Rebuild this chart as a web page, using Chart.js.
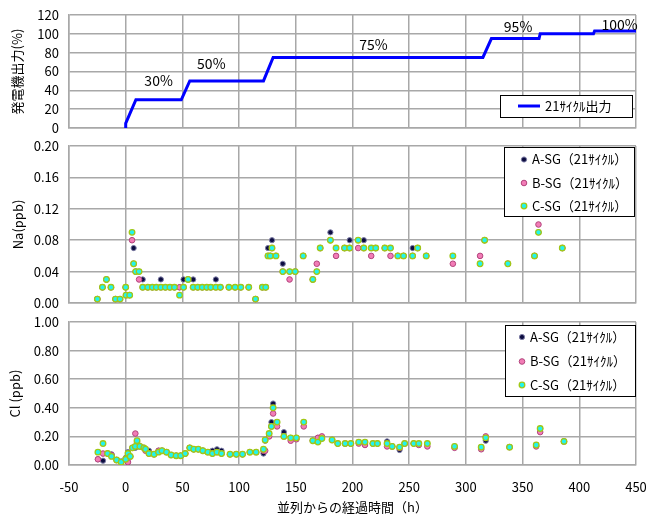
<!DOCTYPE html>
<html>
<head>
<meta charset="utf-8">
<script src="https://cdn.jsdelivr.net/npm/chart.js@4.4.0/dist/chart.umd.min.js"></script>
<style>
  body { margin: 0; background: #fff; width: 646px; height: 515px; position: relative; overflow: hidden; }
  canvas { position: absolute; left: 0; }
</style>
</head>
<body>
<canvas id="power" width="646" height="140" style="top:0px"></canvas>
<canvas id="na" width="646" height="180" style="top:135px"></canvas>
<canvas id="cl" width="646" height="205" style="top:310px"></canvas>
<script>
// 発電機出力（21サイクル）
const powerTime  = [0, 0, 9, 49, 56.5, 121.5, 130, 315, 322.5, 364.5, 365.5, 412.5, 413.5, 450];
const powerLevel = [0, 5, 30, 30, 50, 50, 75, 75, 95, 95, 100, 100, 103, 103];
const stepText = ["30%", "50%", "75%", "95%", "100%"];
const stepTextX = [29, 75.5, 218.5, 346, 435.5];
const stepTextY = [50.5, 68, 88, 108, 110];

// Na (ppb)
const naTime = [-25, -20.5, -17, -13, -9, -5, 0, 0.3, 3.5, 5.6, 7, 8.8, 11.8, 15, 19.5, 23.5, 27, 31, 35, 39,
  43, 47.5, 51, 55, 59.5, 63.5, 67.5, 71.5, 75, 79.5, 83.5, 91, 96.5, 101.5, 108.5, 114.5, 120.5, 123.5, 125.5, 127.5,
  129, 132.5, 138.5, 144.5, 149.5, 156.5, 165, 168.5, 171.5, 180.5, 185.5, 193, 197.5, 205, 210, 216.5, 220.5, 228.5, 233.5, 240,
  245, 253, 257.5, 265, 288.5, 312.5, 316.5, 337, 360.5, 364, 385];
const naA = [0.005, 0.02, 0.03, 0.02, 0.005, 0.005, 0.02, 0.01, 0.01, null, 0.07, 0.04, 0.04, 0.03, 0.02, 0.02, 0.02, 0.03, 0.02, 0.02,
  0.02, 0.02, 0.03, 0.03, 0.03, 0.02, 0.02, 0.02, 0.02, 0.03, 0.02, 0.02, 0.02, 0.02, 0.02, 0.005, 0.02, 0.02, 0.07, 0.06,
  0.08, 0.06, 0.05, 0.04, 0.04, 0.06, 0.03, 0.04, 0.07, 0.09, 0.07, 0.07, 0.08, 0.08, 0.08, 0.07, 0.07, 0.07, 0.07, 0.06,
  0.06, 0.07, 0.07, 0.06, 0.06, 0.05, 0.08, 0.05, 0.06, 0.09, 0.07];
const naB = [0.005, 0.02, 0.03, 0.02, 0.005, 0.005, 0.02, 0.01, 0.01, 0.08, 0.05, 0.04, 0.03, 0.02, 0.02, 0.02, 0.02, 0.02, 0.02, 0.02,
  0.02, 0.02, 0.02, 0.03, 0.02, 0.02, 0.02, 0.02, 0.02, 0.02, 0.02, 0.02, 0.02, 0.02, 0.02, 0.005, 0.02, 0.02, 0.06, 0.06,
  0.07, 0.06, 0.04, 0.03, 0.04, 0.06, 0.03, 0.05, 0.07, 0.08, 0.06, 0.07, 0.07, 0.07, 0.07, 0.06, 0.07, 0.07, 0.06, 0.06,
  0.06, 0.06, 0.07, 0.06, 0.05, 0.06, 0.08, 0.05, 0.06, 0.10, 0.07];
const naC = [0.005, 0.02, 0.03, 0.02, 0.005, 0.005, 0.02, 0.01, 0.01, 0.09, 0.05, 0.04, 0.04, 0.02, 0.02, 0.02, 0.02, 0.02, 0.02, 0.02,
  0.02, 0.01, 0.02, 0.03, 0.02, 0.02, 0.02, 0.02, 0.02, 0.02, 0.02, 0.02, 0.02, 0.02, 0.02, 0.005, 0.02, 0.02, 0.06, 0.06,
  0.07, 0.06, 0.04, 0.04, 0.04, 0.06, 0.03, 0.04, 0.07, 0.08, 0.07, 0.07, 0.07, 0.08, 0.07, 0.07, 0.07, 0.07, 0.07, 0.06,
  0.06, 0.06, 0.07, 0.06, 0.06, 0.05, 0.08, 0.05, 0.06, 0.09, 0.07];

// Cl (ppb)
const clTime = [-24.5, -20, -16, -12.5, -8, -4, 0, 2, 4, 6, 8.5, 10, 12.5, 16, 17.5, 20.5, 25, 29, 32, 36,
  40, 44.5, 48.5, 52.5, 56.5, 60, 64, 68, 72.5, 76.5, 80.5, 84.5, 92, 97.5, 103, 109.5, 115, 121.5, 123, 126.5,
  128.5, 130, 133.5, 139.5, 145.5, 150.5, 157, 165, 169.5, 173, 182, 187, 193.5, 198.5, 205.5, 211, 218, 222, 230.5, 235,
  241.5, 246, 254, 258.5, 266, 290, 313.5, 317.5, 338.5, 362, 365.5, 386.5];
const clA = [0.04, 0.03, 0.08, 0.075, 0.035, 0.025, 0.05, 0.09, 0.06, 0.12, 0.12, 0.16, 0.13, 0.12, 0.11, 0.10, 0.075, 0.10, 0.10, 0.09,
  0.07, 0.065, 0.065, 0.08, 0.12, 0.11, 0.11, 0.10, 0.09, 0.10, 0.11, 0.10, 0.075, 0.075, 0.075, 0.09, 0.09, 0.08, 0.17, 0.22,
  0.30, 0.43, 0.30, 0.23, 0.19, 0.19, 0.30, 0.17, 0.19, 0.185, 0.175, 0.15, 0.15, 0.15, 0.16, 0.16, 0.15, 0.15, 0.165, 0.13,
  0.105, 0.15, 0.15, 0.15, 0.15, 0.13, 0.125, 0.17, 0.125, 0.14, 0.255, 0.165];
const clB = [0.04, 0.08, 0.08, 0.07, 0.035, 0.02, 0.04, 0.02, 0.06, 0.12, 0.22, 0.16, 0.13, 0.12, 0.10, 0.08, 0.075, 0.10, 0.10, 0.09,
  0.07, 0.065, 0.065, 0.08, 0.12, 0.11, 0.11, 0.10, 0.09, 0.08, 0.09, 0.08, 0.075, 0.075, 0.075, 0.09, 0.09, 0.10, 0.10, 0.20,
  0.27, 0.36, 0.27, 0.20, 0.17, 0.18, 0.27, 0.17, 0.19, 0.20, 0.175, 0.15, 0.15, 0.15, 0.15, 0.14, 0.15, 0.15, 0.13, 0.13,
  0.12, 0.15, 0.15, 0.14, 0.13, 0.12, 0.11, 0.20, 0.125, 0.13, 0.23, 0.165];
const clC = [0.09, 0.15, 0.08, 0.06, 0.035, 0.02, 0.04, 0.08, 0.06, 0.12, 0.13, 0.17, 0.13, 0.12, 0.11, 0.08, 0.075, 0.09, 0.10, 0.09,
  0.07, 0.065, 0.065, 0.08, 0.12, 0.11, 0.11, 0.10, 0.09, 0.08, 0.09, 0.08, 0.075, 0.075, 0.075, 0.09, 0.09, 0.11, 0.175, 0.22,
  0.27, 0.40, 0.30, 0.20, 0.19, 0.19, 0.30, 0.17, 0.16, 0.185, 0.175, 0.15, 0.15, 0.15, 0.16, 0.16, 0.15, 0.15, 0.15, 0.13,
  0.125, 0.15, 0.15, 0.15, 0.15, 0.13, 0.125, 0.19, 0.125, 0.14, 0.255, 0.165];

const seriesNames = ["A-SG（21ｻｲｸﾙ）", "B-SG（21ｻｲｸﾙ）", "C-SG（21ｻｲｸﾙ）"];
const powerName = "21ｻｲｸﾙ出力";

const FONT = '"Noto Sans CJK JP", "Liberation Sans", sans-serif';
const GRID = "#a8a8a8";
Chart.defaults.font.family = FONT;
Chart.defaults.font.size = 12;
Chart.defaults.color = "#000";

// A: 紺, B: ピンク, C: シアン+黄緑の縁
const mark = [
  { fill: "#0c0c40", stroke: "#7c7ca4", r: 2.6, w: 1 },
  { fill: "#f27cb6", stroke: "#b2447c", r: 2.8, w: 1 },
  { fill: "#20f4f0", stroke: "#a2c816", r: 2.8, w: 1.3 }
];

function pts(xs, ys) {
  return xs.map((x, i) => ({ x: x, y: ys[i] })).filter(p => p.y !== null);
}

function xAxis(withLabels) {
  return {
    type: "linear", min: -50, max: 450,
    ticks: { display: withLabels, stepSize: 50, padding: 14, font: { size: 13 } },
    grid: { color: GRID, lineWidth: 1.5, drawTicks: false },
    border: { color: GRID, width: 1.5 },
    title: { display: withLabels, text: "並列からの経過時間（h）", padding: { top: 0, bottom: 0 }, font: { size: 13 } },
    afterFit(s) { s.paddingLeft = 0; s.paddingRight = 0; s.height = withLabels ? 50 : 0; }
  };
}

function yAxis(max, step, digits, title, titlePad) {
  return {
    min: 0, max: max,
    ticks: { stepSize: step, padding: 10, font: { size: 13 }, callback: v => v.toFixed(digits) },
    grid: { color: GRID, lineWidth: 1.5, drawTicks: false },
    border: { color: GRID, width: 1.5 },
    title: { display: true, text: title, padding: { top: titlePad, bottom: 0 }, font: { size: 13 } },
    // 幅と上下の余白は layout.padding で決める
    afterFit(s) { s.width = 69; s.paddingTop = 0; s.paddingBottom = 0; }
  };
}

// 枠付きの凡例（プロット内右上）
const boxLegend = {
  id: "boxLegend",
  afterDraw(chart, args, o) {
    const ctx = chart.ctx;
    ctx.save();
    ctx.fillStyle = "#fff";
    ctx.fillRect(o.x, o.y, o.w, o.h);
    ctx.strokeStyle = "#000";
    ctx.lineWidth = 1;
    ctx.strokeRect(o.x + 0.5, o.y + 0.5, o.w, o.h);
    ctx.font = "13px " + FONT;
    ctx.textBaseline = "middle";
    o.rows.forEach(r => {
      if (r.line) {
        ctx.strokeStyle = r.line;
        ctx.lineWidth = 3;
        ctx.beginPath();
        ctx.moveTo(o.markX - 11, r.y);
        ctx.lineTo(o.markX + 11, r.y);
        ctx.stroke();
      } else {
        ctx.beginPath();
        ctx.arc(o.markX, r.y, r.m.r, 0, Math.PI * 2);
        ctx.fillStyle = r.m.fill;
        ctx.fill();
        ctx.strokeStyle = r.m.stroke;
        ctx.lineWidth = r.m.w;
        ctx.stroke();
      }
      ctx.fillStyle = "#000";
      ctx.fillText(r.text, o.textX, r.y);
    });
    ctx.restore();
  }
};

// 出力段階のラベル
const stepLabels = {
  id: "stepLabels",
  afterDatasetsDraw(chart) {
    const ctx = chart.ctx, xs = chart.scales.x, ys = chart.scales.y;
    ctx.save();
    ctx.font = "14px " + FONT;
    ctx.fillStyle = "#000";
    ctx.textAlign = "center";
    ctx.textBaseline = "middle";
    stepText.forEach((t, i) => ctx.fillText(t, xs.getPixelForValue(stepTextX[i]), ys.getPixelForValue(stepTextY[i])));
    ctx.restore();
  }
};

const common = {
  responsive: false,
  animation: false,
  events: [],
  plugins: { legend: { display: false }, tooltip: { enabled: false } }
};

function sgDatasets(time, a, b, c) {
  return [a, b, c].map((ys, i) => ({
    label: seriesNames[i],
    data: pts(time, ys),
    order: 3 - i,
    pointRadius: mark[i].r,
    pointBackgroundColor: mark[i].fill,
    pointBorderColor: mark[i].stroke,
    pointBorderWidth: mark[i].w
  }));
}

new Chart(document.getElementById("power"), {
  type: "scatter",
  data: {
    datasets: [{
      label: powerName,
      data: pts(powerTime, powerLevel),
      showLine: true,
      borderColor: "#0000ff",
      borderWidth: 3,
      pointRadius: 0
    }]
  },
  options: Object.assign({}, common, {
    layout: { padding: { top: 15, bottom: 12, left: 0, right: 10 } },
    scales: { x: xAxis(false), y: yAxis(120, 20, 0, "発電機出力(%)", 9) },
    plugins: Object.assign({}, common.plugins, {
      boxLegend: { x: 500, y: 95, w: 132, h: 22, markX: 529, textX: 545,
        rows: [{ line: "#0000ff", y: 106, text: powerName }] }
    })
  }),
  plugins: [stepLabels, boxLegend]
});

function legendRows(ys) {
  return seriesNames.map((t, i) => ({ m: mark[i], y: ys[i], text: t }));
}

new Chart(document.getElementById("na"), {
  type: "scatter",
  data: { datasets: sgDatasets(naTime, naA, naB, naC) },
  options: Object.assign({}, common, {
    layout: { padding: { top: 11, bottom: 12, left: 0, right: 10 } },
    scales: { x: xAxis(false), y: yAxis(0.2, 0.04, 2, "Na(ppb)", 10) },
    plugins: Object.assign({}, common.plugins, {
      boxLegend: { x: 504, y: 12, w: 130, h: 69, markX: 524, textX: 532, rows: legendRows([24.5, 48, 71]) }
    })
  }),
  plugins: [boxLegend]
});

new Chart(document.getElementById("cl"), {
  type: "scatter",
  data: { datasets: sgDatasets(clTime, clA, clB, clC) },
  options: Object.assign({}, common, {
    layout: { padding: { top: 12, bottom: 0, left: 0, right: 10 } },
    scales: { x: xAxis(true), y: yAxis(1, 0.2, 2, "Cl (ppb)", 7) },
    plugins: Object.assign({}, common.plugins, {
      boxLegend: { x: 505, y: 15, w: 130, h: 71, markX: 522, textX: 530, rows: legendRows([27, 51.5, 75]) }
    })
  }),
  plugins: [boxLegend]
});
</script>
</body>
</html>
